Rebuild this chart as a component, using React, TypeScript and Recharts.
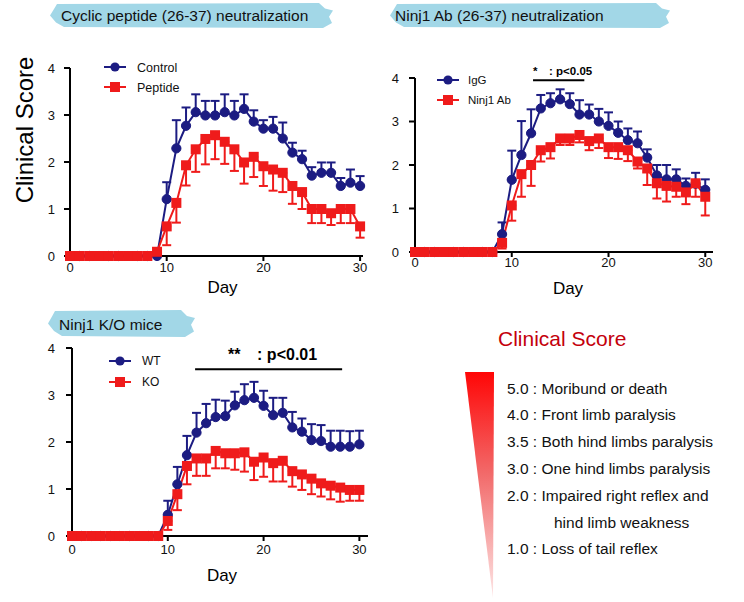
import React from "react";
import { ErrorBar, Legend, Line, LineChart, ReferenceLine, XAxis, YAxis } from "recharts";

const BLUE = "#1c1c82";
const RED = "#ef1b1b";
const BANNER = "#a2d7e7";
const FONT = '"Liberation Sans", Arial, Helvetica, sans-serif';

const days = [0, 1, 2, 3, 4, 5, 6, 7, 8, 9, 10, 11, 12, 13, 14, 15, 16, 17, 18, 19, 20, 21, 22, 23, 24, 25, 26, 27, 28, 29, 30];
const xTicks = [0, 10, 20, 30];
const yTicks = [0, 1, 2, 3, 4];

// Cyclic peptide (26-37) neutralization
const controlMean = [0, 0, 0, 0, 0, 0, 0, 0, 0, 0, 1.21, 2.29, 2.77, 3.06, 2.99, 2.99, 3.06, 2.99, 3.13, 2.86, 2.71, 2.71, 2.5, 2.2, 2.06, 1.71, 1.77, 1.77, 1.49, 1.56, 1.49];
const controlSem = [0, 0, 0, 0, 0, 0, 0, 0, 0, 0, 0.36, 0.6, 0.39, 0.38, 0.31, 0.31, 0.38, 0.31, 0.31, 0.24, 0.18, 0.25, 0.34, 0.21, 0.18, 0.18, 0.22, 0.22, 0.17, 0.28, 0.21];
const peptideMean = [0, 0, 0, 0, 0, 0, 0, 0, 0, 0.09, 0.63, 1.13, 1.93, 2.27, 2.49, 2.57, 2.43, 2.27, 1.99, 2.11, 1.91, 1.84, 1.77, 1.49, 1.36, 1, 1, 0.91, 1, 1, 0.63];
const peptideSem = [0, 0, 0, 0, 0, 0, 0, 0, 0, 0, 0.4, 0.42, 0.43, 0.48, 0.54, 0.51, 0.47, 0.46, 0.45, 0.43, 0.42, 0.45, 0.41, 0.38, 0.36, 0.3, 0.3, 0.25, 0.3, 0.3, 0.24];

// Ninj1 Ab (26-37) neutralization
const iggMean = [0, 0, 0, 0, 0, 0, 0, 0, 0, 0.41, 1.66, 2.23, 2.73, 3.3, 3.42, 3.51, 3.4, 3.16, 3.16, 3.0, 2.9, 2.74, 2.57, 2.5, 2.17, 1.76, 1.67, 1.67, 1.52, 1.57, 1.43];
const iggSem = [0, 0, 0, 0, 0, 0, 0, 0, 0, 0.27, 0.67, 0.78, 0.55, 0.31, 0.23, 0.23, 0.25, 0.33, 0.23, 0.29, 0.31, 0.26, 0.27, 0.27, 0.19, 0.24, 0.33, 0.23, 0.17, 0.25, 0.24];
const abMean = [0, 0, 0, 0, 0, 0, 0, 0, 0, 0.21, 1.07, 1.79, 2.0, 2.34, 2.41, 2.61, 2.61, 2.69, 2.55, 2.61, 2.41, 2.41, 2.34, 2.08, 1.92, 1.58, 1.52, 1.5, 1.37, 1.58, 1.27];
const abSem = [0, 0, 0, 0, 0, 0, 0, 0, 0, 0.13, 0.35, 0.52, 0.48, 0.26, 0.26, 0.15, 0.15, 0.17, 0.21, 0.22, 0.25, 0.27, 0.25, 0.16, 0.38, 0.35, 0.36, 0.23, 0.27, 0.31, 0.43];

// Ninj1 K/O mice
const wtMean = [0, 0, 0, 0, 0, 0, 0, 0, 0, 0, 0.45, 1.1, 1.72, 2.2, 2.4, 2.53, 2.55, 2.78, 2.89, 2.94, 2.77, 2.57, 2.62, 2.31, 2.22, 2.04, 2.02, 1.9, 1.9, 1.9, 1.95];
const wtSem = [0, 0, 0, 0, 0, 0, 0, 0, 0, 0, 0.3, 0.37, 0.41, 0.42, 0.41, 0.37, 0.33, 0.29, 0.34, 0.34, 0.32, 0.37, 0.32, 0.33, 0.28, 0.34, 0.34, 0.34, 0.34, 0.33, 0.29];
const koMean = [0, 0, 0, 0, 0, 0, 0, 0, 0, 0, 0.32, 0.89, 1.49, 1.65, 1.65, 1.81, 1.76, 1.76, 1.78, 1.58, 1.67, 1.55, 1.6, 1.38, 1.31, 1.22, 1.12, 1.07, 1.03, 0.98, 0.98];
const koSem = [0, 0, 0, 0, 0, 0, 0, 0, 0, 0, 0.19, 0.34, 0.39, 0.37, 0.37, 0.37, 0.32, 0.35, 0.41, 0.39, 0.41, 0.39, 0.44, 0.33, 0.33, 0.33, 0.28, 0.29, 0.3, 0.23, 0.23];

const scoreLevels = ["5.0", "4.0", "3.5", "3.0", "2.0", "", "1.0"];
const scoreSigns = [
  "Moribund or death",
  "Front limb paralysis",
  "Both hind limbs paralysis",
  "One hind limbs paralysis",
  "Impaired right reflex and",
  "hind limb weakness",
  "Loss of tail reflex",
];

function buildRows(blueMean: number[], blueSem: number[], redMean: number[], redSem: number[]) {
  return days.map((day, i) => ({
    day,
    blue: blueMean[i],
    blueErr: [0, blueSem[i]],
    red: redMean[i],
    redErr: [redSem[i], 0],
  }));
}

const circleDot = (p: any) => (
  <circle key={`c-${p.index}`} cx={p.cx} cy={p.cy} r={4.6} fill={BLUE} stroke={BLUE} strokeWidth={1} />
);
const squareDot = (p: any) => (
  <rect key={`s-${p.index}`} x={p.cx - 5} y={p.cy - 5} width={10} height={10} fill={RED} />
);

function makeLegend(gap: number, fontSize: number, textX: number) {
  return function LegendBox(props: any) {
    const items = [...(props.payload || [])].sort((a: any, b: any) =>
      a.dataKey === "blue" ? -1 : b.dataKey === "blue" ? 1 : 0
    );
    return (
      <svg width={120} height={gap + 20} style={{ display: "block", overflow: "visible" }}>
        {items.map((it: any, i: number) => {
          const y = 9 + i * gap;
          const isRed = it.dataKey === "red";
          return (
            <g key={String(it.value)}>
              <line x1={4} x2={26} y1={y} y2={y} stroke={isRed ? RED : BLUE} strokeWidth={2} />
              {isRed ? (
                <rect x={10} y={y - 5} width={10} height={10} fill={RED} />
              ) : (
                <circle cx={15} cy={y} r={4.6} fill={BLUE} />
              )}
              <text x={textX} y={y + fontSize * 0.36} fontSize={fontSize} fontFamily={FONT} fill="#111">
                {it.value}
              </text>
            </g>
          );
        })}
      </svg>
    );
  };
}

type Sig = { from: number; to: number; y: number; stars: string; text: string; starDx: number; textDx: number; lift: number; size: number };

function ScoreChart(props: any) {
  const { rows, names, xMax, width, height, margin, xAxisH, tickSize, xTickMargin, yTickMargin, dayOffset, dayDx, legend, sig } = props;
  const s: Sig | null = sig;
  return (
    <LineChart width={width} height={height} data={rows} margin={margin}>
      <XAxis
        dataKey="day"
        type="number"
        domain={[0, xMax]}
        ticks={xTicks}
        height={xAxisH}
        axisLine={{ stroke: "#000", strokeWidth: 2 }}
        tickLine={{ stroke: "#000", strokeWidth: 2 }}
        tickSize={tickSize}
        tickMargin={xTickMargin}
        tick={{ fill: "#111", fontSize: 13, fontFamily: FONT }}
        label={{ value: "Day", position: "insideBottom", offset: dayOffset, dx: dayDx, fontSize: 17, fill: "#000", fontFamily: FONT }}
      />
      <YAxis
        type="number"
        domain={[0, 4]}
        ticks={yTicks}
        width={30}
        axisLine={{ stroke: "#000", strokeWidth: 2 }}
        tickLine={{ stroke: "#000", strokeWidth: 2 }}
        tickSize={6}
        tickMargin={yTickMargin}
        tick={{ fill: "#111", fontSize: 13, fontFamily: FONT }}
      />
      <Legend
        layout="vertical"
        align="center"
        verticalAlign="middle"
        content={makeLegend(legend.gap, legend.font, legend.textX)}
        wrapperStyle={{ left: legend.left, top: legend.top, width: 120, height: legend.gap + 20 }}
      />
      {s && (
        <ReferenceLine
          segment={[{ x: s.from, y: s.y }, { x: s.to, y: s.y }]}
          stroke="#000"
          strokeWidth={2}
          ifOverflow="visible"
          label={(p: any) => {
            const vb = p.viewBox || { x: 0, y: 0 };
            return (
              <g>
                <text x={vb.x + s.starDx} y={vb.y - s.lift} fontSize={s.size} fontWeight="bold" fontFamily={FONT} fill="#000">
                  {s.stars}
                </text>
                <text x={vb.x + s.textDx} y={vb.y - s.lift} fontSize={s.size} fontWeight="bold" fontFamily={FONT} fill="#000">
                  {s.text}
                </text>
              </g>
            );
          }}
        />
      )}
      <Line dataKey="blue" name={names[0]} type="linear" stroke={BLUE} strokeWidth={2} dot={circleDot} isAnimationActive={false}>
        <ErrorBar dataKey="blueErr" direction="y" width={4.5} stroke={BLUE} strokeWidth={2} />
      </Line>
      <Line dataKey="red" name={names[1]} type="linear" stroke={RED} strokeWidth={2} dot={squareDot} isAnimationActive={false}>
        <ErrorBar dataKey="redErr" direction="y" width={4.5} stroke={RED} strokeWidth={2} />
      </Line>
    </LineChart>
  );
}

function bannerPoints(x0: number, y0: number, x1: number, y1: number) {
  const h = y1 - y0;
  const pts = [
    [x0 + 7, y0 + 1],
    [x1 - 14, y0],
    [x1 - 8, y0 + h * 0.22],
    [x1, y0 + h * 0.3],
    [x1 - 4, y0 + h * 0.55],
    [x1 - 1, y0 + h * 0.8],
    [x1 - 10, y1],
    [x0 + 14, y1 - 1],
    [x0 + 6, y0 + h * 0.78],
    [x0, y0 + h * 0.5],
    [x0 + 4, y0 + h * 0.24],
  ];
  return pts.map((p) => p.join(",")).join(" ");
}

function Decorations() {
  return (
    <svg width={744} height={602} style={{ position: "absolute", left: 0, top: 0 }}>
      <defs>
        <linearGradient id="severity" x1="0" y1="0" x2="0" y2="1">
          <stop offset="0" stopColor="#ff0606" />
          <stop offset="0.45" stopColor="#f26a6a" />
          <stop offset="1" stopColor="#fde6e6" />
        </linearGradient>
      </defs>
      <polygon points={bannerPoints(50, 3, 333, 28)} fill={BANNER} />
      <text x={61} y={21} fontSize={15.5} fontFamily={FONT} fill="#111">Cyclic peptide (26-37) neutralization</text>
      <polygon points={bannerPoints(390, 3, 670, 28)} fill={BANNER} />
      <text x={395} y={21} fontSize={15.5} fontFamily={FONT} fill="#111">Ninj1 Ab (26-37) neutralization</text>
      <polygon points={bannerPoints(48, 310, 195, 337)} fill={BANNER} />
      <text x={59} y={330} fontSize={15.5} fontFamily={FONT} fill="#111">Ninj1 K/O mice</text>
      <text transform="translate(33,130) rotate(-90)" textAnchor="middle" fontSize={24} fontFamily={FONT} fill="#000">
        Clinical Score
      </text>
      <text x={498} y={346} fontSize={21} fontFamily={FONT} fill="#c4000c">Clinical Score</text>
      <polygon points="465,372 494,372 493,598" fill="url(#severity)" />
      {scoreSigns.map((sign, i) => {
        const y = 393.5 + i * 26.8;
        const level = scoreLevels[i];
        return level ? (
          <text key={sign} x={507} y={y} fontSize={15.5} fontFamily={FONT} fill="#111">
            {`${level} : ${sign}`}
          </text>
        ) : (
          <text key={sign} x={554} y={y} fontSize={15.5} fontFamily={FONT} fill="#111">
            {sign}
          </text>
        );
      })}
    </svg>
  );
}

export default function App() {
  const rows1 = buildRows(controlMean, controlSem, peptideMean, peptideSem);
  const rows2 = buildRows(iggMean, iggSem, abMean, abSem);
  const rows3 = buildRows(wtMean, wtSem, koMean, koSem);
  return (
    <div style={{ position: "absolute", left: 0, top: 0, width: 744, height: 602, background: "#fff", fontFamily: FONT }}>
      <Decorations />
      <div style={{ position: "absolute", left: 0, top: 0 }}>
        <ScoreChart
          rows={rows1}
          names={["Control", "Peptide"]}
          xMax={30.3}
          width={372}
          height={300}
          margin={{ top: 68, right: 9, bottom: 4, left: 40 }}
          xAxisH={40}
          tickSize={5}
          xTickMargin={2}
          yTickMargin={9}
          dayOffset={3}
          dayDx={6}
          legend={{ left: 100, top: 58, gap: 20, font: 12.5, textX: 37 }}
          sig={null}
        />
      </div>
      <div style={{ position: "absolute", left: 372, top: 0 }}>
        <ScoreChart
          rows={rows2}
          names={["IgG", "Ninj1 Ab"]}
          xMax={30.8}
          width={372}
          height={300}
          margin={{ top: 78, right: 31, bottom: 4, left: 13 }}
          xAxisH={44}
          tickSize={5}
          xTickMargin={1}
          yTickMargin={10}
          dayOffset={2}
          dayDx={4}
          legend={{ left: 61, top: 71, gap: 20, font: 11.5, textX: 35 }}
          sig={{ from: 12.2, to: 17.5, y: 3.95, stars: "*", text: ": p<0.05", starDx: 0, textDx: 16, lift: 5, size: 11.5 }}
        />
      </div>
      <div style={{ position: "absolute", left: 0, top: 300 }}>
        <ScoreChart
          rows={rows3}
          names={["WT", "KO"]}
          xMax={30.9}
          width={372}
          height={302}
          margin={{ top: 48, right: 4, bottom: 16, left: 42 }}
          xAxisH={50}
          tickSize={5}
          xTickMargin={4}
          yTickMargin={11}
          dayOffset={5}
          dayDx={2}
          legend={{ left: 105, top: 52, gap: 21, font: 12, textX: 37 }}
          sig={{ from: 12.85, to: 28.2, y: 3.55, stars: "**", text: ": p<0.01", starDx: 33, textDx: 62, lift: 9, size: 16 }}
        />
      </div>
    </div>
  );
}
